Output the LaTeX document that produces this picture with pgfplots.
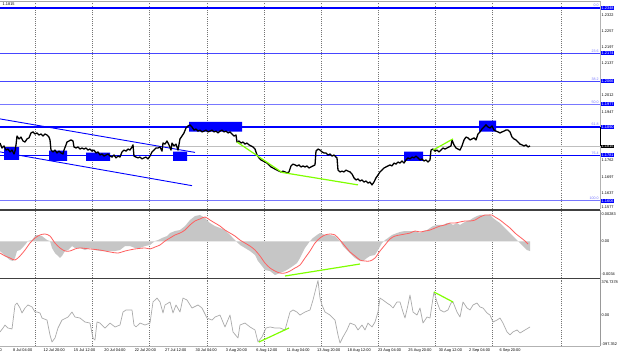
\documentclass[border=0pt]{standalone}
\usepackage{pgfplots}
\pgfplotsset{compat=1.18}
\usepackage{fontspec}
\setmainfont{Liberation Sans}
\definecolor{fibblue}{RGB}{0,0,255}
\definecolor{fibmid}{RGB}{70,70,255}
\definecolor{fiblight}{RGB}{120,120,255}
\definecolor{limeg}{RGB}{128,255,0}
\definecolor{sigred}{RGB}{255,95,95}
\definecolor{ccigray}{RGB}{170,170,170}
\definecolor{histgray}{RGB}{198,198,198}
\pgfplotsset{
 pane/.style={scale only axis, width=600bp, xmin=0, xmax=600, anchor=south west,
   axis line style={draw=none}, tick style={draw=none}, ytick=\empty,
   xtick={35,92.5,149.5,207,264,321,378,435,492,561}, xticklabels={},
   xmajorgrids, major grid style={dash pattern=on 1bp off 1.2bp, black!55, line width=0.45bp},
   clip mode=individual},
}
\tikzset{
 lab/.style={anchor=west, inner sep=0.5bp, font=\fontsize{3.9}{4}\selectfont},
 fbox/.style={lab, fill=fibblue, text=white},
 bbox/.style={lab, fill=black, text=white},
 flev/.style={anchor=south east, inner sep=0.3bp, text=fiblight, font=\fontsize{3.6}{3.8}\selectfont},
 dlab/.style={anchor=north west, inner sep=0bp, yshift=-2.5bp, font=\fontsize{3.9}{4}\selectfont},
}
\begin{document}
\begin{tikzpicture}
\useasboundingbox (0,0) rectangle (620bp,357bp);
\fill[white] (0,0) rectangle (620bp,357bp);

% ---------------- main price pane ----------------
\begin{axis}[pane, at={(0bp,148bp)}, height=207.5bp, ymin=1.15742, ymax=1.2373]
% fibo levels
\addplot[fibblue, line width=1.3bp] coordinates {(0,1.2348) (600,1.2348)};
\addplot[fibmid, line width=1.2bp] coordinates {(0,1.2174) (600,1.2174)};
\addplot[fibmid, line width=1.2bp] coordinates {(0,1.2066) (600,1.2066)};
\addplot[fiblight, line width=0.9bp] coordinates {(0,1.1977) (600,1.1977)};
\addplot[fibblue, line width=1.2bp] coordinates {(0,1.1890) (600,1.1890)};
\addplot[fibblue, line width=1.2bp] coordinates {(0,1.1781) (600,1.1781)};
\addplot[fiblight, line width=0.9bp] coordinates {(0,1.1606) (600,1.1606)};
% bid line
\addplot[black!25, line width=0.5bp] coordinates {(0,1.1815) (600,1.1815)};
% channel
\addplot[fibblue, line width=0.9bp] coordinates {(0,1.1921) (195,1.1792)};
\addplot[fibblue, line width=0.9bp] coordinates {(0,1.1794) (192,1.1664)};
% zones
\addplot[fill=fibblue, draw=none] coordinates {(4,1.1812) (19,1.1812) (19,1.1763) (4,1.1763) (4,1.1812)};
\addplot[fill=fibblue, draw=none] coordinates {(49,1.1799) (67,1.1799) (67,1.1759) (49,1.1759) (49,1.1799)};
\addplot[fill=fibblue, draw=none] coordinates {(86,1.1791) (110,1.1791) (110,1.1759) (86,1.1759) (86,1.1791)};
\addplot[fill=fibblue, draw=none] coordinates {(173,1.1795) (187,1.1795) (187,1.1759) (173,1.1759) (173,1.1795)};
\addplot[fill=fibblue, draw=none] coordinates {(189,1.1910) (242,1.1910) (242,1.1872) (189,1.1872) (189,1.1910)};
\addplot[fill=fibblue, draw=none] coordinates {(404,1.1795) (423,1.1795) (423,1.1759) (404,1.1759) (404,1.1795)};
\addplot[fill=fibblue, draw=none] coordinates {(479,1.1914) (496,1.1914) (496,1.1872) (479,1.1872) (479,1.1914)};
% price
\addplot[black, line width=1.3bp, line join=round] table {
x y
0 1.1828
2 1.1809
4 1.1817
6 1.1801
8 1.1805
10 1.1794
12 1.1801
14 1.1786
15 1.1797
16 1.1821
17 1.1855
19 1.1844
21 1.1851
23 1.1836
25 1.1832
27 1.1844
29 1.1848
31 1.1867
33 1.1871
35 1.1863
37 1.1867
39 1.1859
41 1.1863
43 1.1855
45 1.1863
47 1.1859
49 1.1851
50 1.1840
51 1.1801
53 1.1794
55 1.1801
57 1.1790
59 1.1797
61 1.1790
63 1.1786
64 1.1801
66 1.1821
67 1.1832
69 1.1836
71 1.1840
73 1.1836
74 1.1813
76 1.1809
78 1.1813
80 1.1805
82 1.1809
84 1.1805
86 1.1809
88 1.1801
90 1.1805
92 1.1797
94 1.1801
96 1.1790
98 1.1794
100 1.1782
102 1.1786
104 1.1778
106 1.1782
108 1.1786
110 1.1778
112 1.1774
114 1.1782
116 1.1771
118 1.1778
120 1.1774
122 1.1794
124 1.1801
126 1.1797
128 1.1805
130 1.1801
132 1.1813
133 1.1821
134 1.1778
136 1.1774
138 1.1771
140 1.1774
142 1.1767
144 1.1771
146 1.1774
148 1.1767
150 1.1778
152 1.1794
154 1.1801
156 1.1809
158 1.1809
160 1.1813
162 1.1797
163 1.1828
165 1.1824
167 1.1836
169 1.1821
171 1.1801
172 1.1828
174 1.1817
176 1.1824
178 1.1801
180 1.1844
182 1.1855
184 1.1867
186 1.1886
188 1.1894
190 1.1898
192 1.1890
194 1.1878
196 1.1882
198 1.1874
200 1.1878
202 1.1871
204 1.1874
206 1.1878
208 1.1871
210 1.1874
212 1.1878
214 1.1871
216 1.1874
218 1.1867
220 1.1874
222 1.1878
224 1.1871
226 1.1874
228 1.1867
230 1.1871
232 1.1863
234 1.1855
236 1.1859
237 1.1832
239 1.1836
241 1.1828
243 1.1832
245 1.1824
247 1.1828
249 1.1821
251 1.1817
253 1.1813
255 1.1805
257 1.1782
259 1.1771
261 1.1763
263 1.1759
265 1.1755
267 1.1751
269 1.1744
271 1.1736
273 1.1732
275 1.1728
277 1.1724
279 1.1720
281 1.1717
283 1.1720
285 1.1717
287 1.1713
289 1.1717
291 1.1740
293 1.1747
295 1.1744
297 1.1740
299 1.1744
301 1.1736
303 1.1740
305 1.1736
307 1.1740
309 1.1732
311 1.1736
313 1.1740
315 1.1744
316 1.1797
318 1.1805
320 1.1801
322 1.1794
324 1.1790
326 1.1790
328 1.1782
330 1.1786
332 1.1778
334 1.1782
336 1.1774
337 1.1771
338 1.1724
340 1.1717
342 1.1720
344 1.1717
346 1.1724
348 1.1720
350 1.1717
352 1.1709
354 1.1694
356 1.1686
358 1.1690
360 1.1682
362 1.1686
364 1.1678
366 1.1682
368 1.1674
370 1.1678
372 1.1667
374 1.1678
376 1.1694
378 1.1705
380 1.1717
382 1.1724
384 1.1732
386 1.1736
388 1.1740
390 1.1744
392 1.1740
394 1.1751
396 1.1747
398 1.1755
400 1.1751
402 1.1759
404 1.1751
406 1.1763
408 1.1771
410 1.1767
412 1.1774
414 1.1771
416 1.1778
418 1.1771
420 1.1763
422 1.1767
424 1.1759
426 1.1763
428 1.1755
430 1.1763
431 1.1801
433 1.1805
435 1.1797
437 1.1801
439 1.1794
441 1.1801
443 1.1809
445 1.1805
447 1.1809
449 1.1813
451 1.1817
452 1.1840
454 1.1821
456 1.1809
458 1.1805
460 1.1801
462 1.1817
464 1.1840
466 1.1851
468 1.1848
470 1.1840
472 1.1844
474 1.1848
476 1.1840
478 1.1863
480 1.1871
482 1.1882
484 1.1890
486 1.1898
488 1.1890
490 1.1886
492 1.1894
494 1.1878
496 1.1874
498 1.1871
500 1.1867
502 1.1871
504 1.1874
506 1.1878
508 1.1878
510 1.1871
512 1.1851
514 1.1844
516 1.1840
518 1.1832
520 1.1824
522 1.1821
524 1.1817
526 1.1821
528 1.1813
530 1.1817
};
% divergence lines
\addplot[limeg, line width=1.2bp] coordinates {(237,1.1832) (282,1.1715)};
\addplot[limeg, line width=1.2bp] coordinates {(282,1.1715) (358,1.1667)};
\addplot[limeg, line width=1.2bp] coordinates {(433,1.1801) (453,1.1844)};
% top border and right price marker
\draw[black!35, line width=1bp] (rel axis cs:0,1) -- (rel axis cs:1,1);
\draw[black!30, line width=0.5bp] (axis cs:600,1.15742) -- (axis cs:600,1.2373);
\draw[black, line width=1.2bp] (axis cs:600.5,1.1890) -- (axis cs:600.5,1.1815);
% header text
\node[lab] at (axis cs:2,1.2361) {1.1815};
% fibo level captions
\node[flev] at (axis cs:599,1.2350) {0.0};
\node[flev] at (axis cs:599,1.2176) {23.6};
\node[flev] at (axis cs:599,1.2068) {38.2};
\node[flev] at (axis cs:599,1.1979) {50.0};
\node[flev] at (axis cs:599,1.1892) {61.8};
\node[flev] at (axis cs:599,1.1783) {76.4};
\node[flev] at (axis cs:599,1.1608) {100.0};
% price scale
\node[lab] at (axis cs:601,1.2322) {1.2322};
\node[lab] at (axis cs:601,1.2257) {1.2257};
\node[lab] at (axis cs:601,1.2197) {1.2197};
\node[lab] at (axis cs:601,1.2137) {1.2137};
\node[lab] at (axis cs:601,1.2012) {1.2012};
\node[lab] at (axis cs:601,1.1947) {1.1947};
\node[lab] at (axis cs:601,1.1762) {1.1762};
\node[lab] at (axis cs:601,1.1697) {1.1697};
\node[lab] at (axis cs:601,1.1637) {1.1637};
\node[lab] at (axis cs:601,1.1580) {1.1577};
\node[fbox] at (axis cs:601,1.2348) {1.2348};
\node[fbox] at (axis cs:601,1.2174) {1.2174};
\node[fbox] at (axis cs:601,1.2066) {1.2066};
\node[fbox] at (axis cs:601,1.1977) {1.1977};
\node[fbox] at (axis cs:601,1.1890) {1.1890};
\node[fbox] at (axis cs:601,1.1781) {1.1781};
\node[fbox] at (axis cs:601,1.1606) {1.1606};
\node[bbox] at (axis cs:601,1.1815) {1.1815};
\end{axis}

% ---------------- MACD pane ----------------
\begin{axis}[pane, at={(0bp,79bp)}, height=67bp, ymin=-0.0034, ymax=0.00283]
\addplot[fill=histgray, draw=none] table {
x y
0 -0.00089
5 -0.00135
10 -0.00173
13 -0.00182
15 -0.00154
17 -0.00089
20 -0.00080
25 -0.00033
28 0.00004
32 0.00013
35 0.00050
37 0.00060
42 0.00050
47 0.00013
50 0.00004
52 -0.00061
55 -0.00108
58 -0.00135
60 -0.00154
62 -0.00135
65 -0.00089
68 -0.00080
70 -0.00061
72 -0.00043
75 -0.00061
80 -0.00061
85 -0.00080
90 -0.00061
95 -0.00080
100 -0.00089
105 -0.00089
110 -0.00089
115 -0.00089
120 -0.00080
125 -0.00043
130 -0.00043
135 -0.00061
140 -0.00061
145 -0.00043
150 -0.00033
155 0.00004
158 0.00013
162 0.00032
167 0.00050
170 0.00078
175 0.00097
180 0.00106
185 0.00143
190 0.00199
195 0.00236
200 0.00246
205 0.00218
210 0.00171
215 0.00143
220 0.00125
225 0.00106
230 0.00060
235 0.00013
240 -0.00033
245 -0.00061
250 -0.00089
255 -0.00126
258 -0.00182
262 -0.00228
265 -0.00266
270 -0.00275
275 -0.00312
280 -0.00294
285 -0.00275
290 -0.00247
293 -0.00228
297 -0.00201
300 -0.00154
305 -0.00061
310 0.00004
313 0.00032
317 0.00060
320 0.00078
325 0.00060
330 0.00060
335 0.00050
340 0.00004
343 -0.00043
347 -0.00080
350 -0.00108
355 -0.00154
360 -0.00182
363 -0.00182
367 -0.00154
370 -0.00135
375 -0.00126
378 -0.00080
382 -0.00015
385 0.00013
388 0.00032
392 0.00060
397 0.00078
400 0.00088
405 0.00097
410 0.00097
415 0.00097
420 0.00078
423 0.00097
427 0.00106
430 0.00125
433 0.00143
437 0.00153
440 0.00153
443 0.00153
447 0.00171
450 0.00171
453 0.00153
457 0.00171
460 0.00153
463 0.00171
467 0.00190
470 0.00199
473 0.00218
477 0.00236
480 0.00246
483 0.00246
487 0.00246
490 0.00246
493 0.00218
497 0.00190
500 0.00171
503 0.00143
507 0.00106
510 0.00078
513 0.00050
517 0.00013
520 -0.00015
523 -0.00043
527 -0.00080
530 -0.00089
} \closedcycle;
\addplot[sigred, line width=0.8bp, smooth] table {
x y
0 -0.00108
5 -0.00135
10 -0.00154
15 -0.00173
20 -0.00135
25 -0.00080
30 -0.00015
35 0.00032
40 0.00060
45 0.00069
50 0.00050
55 -0.00015
60 -0.00061
65 -0.00089
70 -0.00089
75 -0.00070
80 -0.00061
90 -0.00070
100 -0.00080
110 -0.00098
118 -0.00108
125 -0.00089
135 -0.00070
145 -0.00061
150 -0.00070
155 -0.00052
160 -0.00033
165 0.00004
170 0.00032
175 0.00060
180 0.00078
185 0.00106
190 0.00153
195 0.00190
200 0.00209
205 0.00227
210 0.00199
215 0.00171
220 0.00143
225 0.00106
230 0.00078
235 0.00050
240 0.00013
245 -0.00015
250 -0.00043
255 -0.00080
260 -0.00135
265 -0.00201
270 -0.00247
275 -0.00275
280 -0.00294
285 -0.00294
290 -0.00275
295 -0.00247
300 -0.00219
305 -0.00154
310 -0.00089
315 -0.00015
320 0.00032
325 0.00060
330 0.00069
335 0.00060
340 0.00013
345 -0.00043
350 -0.00098
355 -0.00135
360 -0.00173
365 -0.00182
370 -0.00182
375 -0.00154
380 -0.00089
385 -0.00033
390 0.00023
395 0.00050
400 0.00060
405 0.00069
410 0.00078
415 0.00097
420 0.00088
425 0.00097
430 0.00106
435 0.00125
440 0.00143
445 0.00153
450 0.00171
455 0.00171
460 0.00181
465 0.00190
470 0.00190
475 0.00199
480 0.00227
485 0.00246
488 0.00246
492 0.00246
495 0.00227
500 0.00199
505 0.00162
510 0.00125
515 0.00078
520 0.00041
525 0.00004
528 -0.00024
};
\addplot[limeg, line width=1.2bp] coordinates {(285,-0.003215) (360,-0.002099)};
\node[lab] at (axis cs:601,0.00255) {0.00283};
\node[lab] at (axis cs:601,0) {0.00};
\node[lab] at (axis cs:601,-0.00303) {-0.0034};
\end{axis}

% ---------------- CCI pane ----------------
\begin{axis}[pane, at={(0bp,11bp)}, height=66.5bp, ymin=-397.352, ymax=376.7378]
\addplot[ccigray, line width=0.7bp, line join=round] table {
x y
0 -234
3 -188
5 -153
8 -188
12 -199
15 80
17 103
20 45
22 -13
25 45
28 80
32 57
35 -2
37 -2
40 -13
42 -72
47 -95
50 -269
52 -351
55 -304
58 -188
62 -95
68 -60
72 -2
75 -60
80 -72
85 -118
90 -130
93 -304
95 -328
97 -118
100 -130
105 -188
110 -130
115 -176
120 -153
123 -2
126 22
132 22
134 -153
136 -176
140 -130
145 -153
150 -130
153 115
157 161
160 115
163 -13
165 80
170 115
173 -13
176 80
180 -2
183 161
187 138
192 45
198 80
202 45
207 -72
212 -95
215 -60
220 -37
225 -176
230 -37
233 -234
238 -304
240 -153
245 -130
250 -176
255 -211
258 -351
262 -292
266 -188
270 -176
275 -188
280 -188
285 -211
290 -2
293 22
297 -2
300 -37
305 -2
310 22
313 138
316 278
318 365
320 161
322 80
325 -2
330 -37
335 -95
338 -269
340 -363
343 -292
347 -211
350 -130
355 -153
358 -211
362 -153
365 -211
368 -130
372 -176
375 -118
378 -2
380 161
383 138
387 103
390 80
393 45
397 115
400 115
403 -2
405 -72
408 80
410 196
413 -2
417 -37
420 45
423 -130
427 -60
430 -72
433 161
434 231
437 115
440 22
444 -2
448 22
451 103
453 115
457 -2
460 -60
463 115
467 45
470 22
473 80
477 103
480 57
483 45
487 -13
490 -37
493 -118
497 -95
500 -72
503 -130
507 -234
510 -269
513 -234
517 -211
520 -246
525 -211
530 -176
};
\addplot[limeg, line width=1.2bp] coordinates {(259,-350.8) (289,-187.8)};
\addplot[limeg, line width=1.2bp] coordinates {(434,231.2) (453,114.8)};
\node[lab] at (axis cs:601,347.6) {376.7378};
\node[lab] at (axis cs:601,-40) {0.00};
\node[lab] at (axis cs:601,-374) {-397.352};
% time axis
\node[dlab] at (axis cs:-17.4,-397.352) {3 Jul 12:00};
\node[dlab] at (axis cs:13,-397.352) {8 Jul 04:00};
\node[dlab] at (axis cs:43.4,-397.352) {12 Jul 20:00};
\node[dlab] at (axis cs:73.8,-397.352) {15 Jul 12:00};
\node[dlab] at (axis cs:104.2,-397.352) {20 Jul 04:00};
\node[dlab] at (axis cs:134.6,-397.352) {22 Jul 20:00};
\node[dlab] at (axis cs:165,-397.352) {27 Jul 12:00};
\node[dlab] at (axis cs:195.4,-397.352) {30 Jul 04:00};
\node[dlab] at (axis cs:225.8,-397.352) {3 Aug 20:00};
\node[dlab] at (axis cs:256.2,-397.352) {6 Aug 12:00};
\node[dlab] at (axis cs:286.6,-397.352) {11 Aug 04:00};
\node[dlab] at (axis cs:317,-397.352) {13 Aug 20:00};
\node[dlab] at (axis cs:347.4,-397.352) {18 Aug 12:00};
\node[dlab] at (axis cs:377.8,-397.352) {23 Aug 04:00};
\node[dlab] at (axis cs:408.2,-397.352) {25 Aug 20:00};
\node[dlab] at (axis cs:438.6,-397.352) {30 Aug 12:00};
\node[dlab] at (axis cs:469,-397.352) {2 Sep 04:00};
\node[dlab] at (axis cs:499.4,-397.352) {6 Sep 20:00};
\end{axis}

% pane separators
\draw[black!75, line width=1.8bp] (0bp,146.7bp) -- (600bp,146.7bp);
\draw[black!75, line width=1.8bp] (0bp,78.5bp) -- (600bp,78.5bp);
\draw[black!30, line width=0.5bp] (0bp,11bp) -- (600bp,11bp);
\draw[black!40, line width=0.5bp] (600bp,11bp) -- (600bp,146.7bp);
\end{tikzpicture}
\end{document}
